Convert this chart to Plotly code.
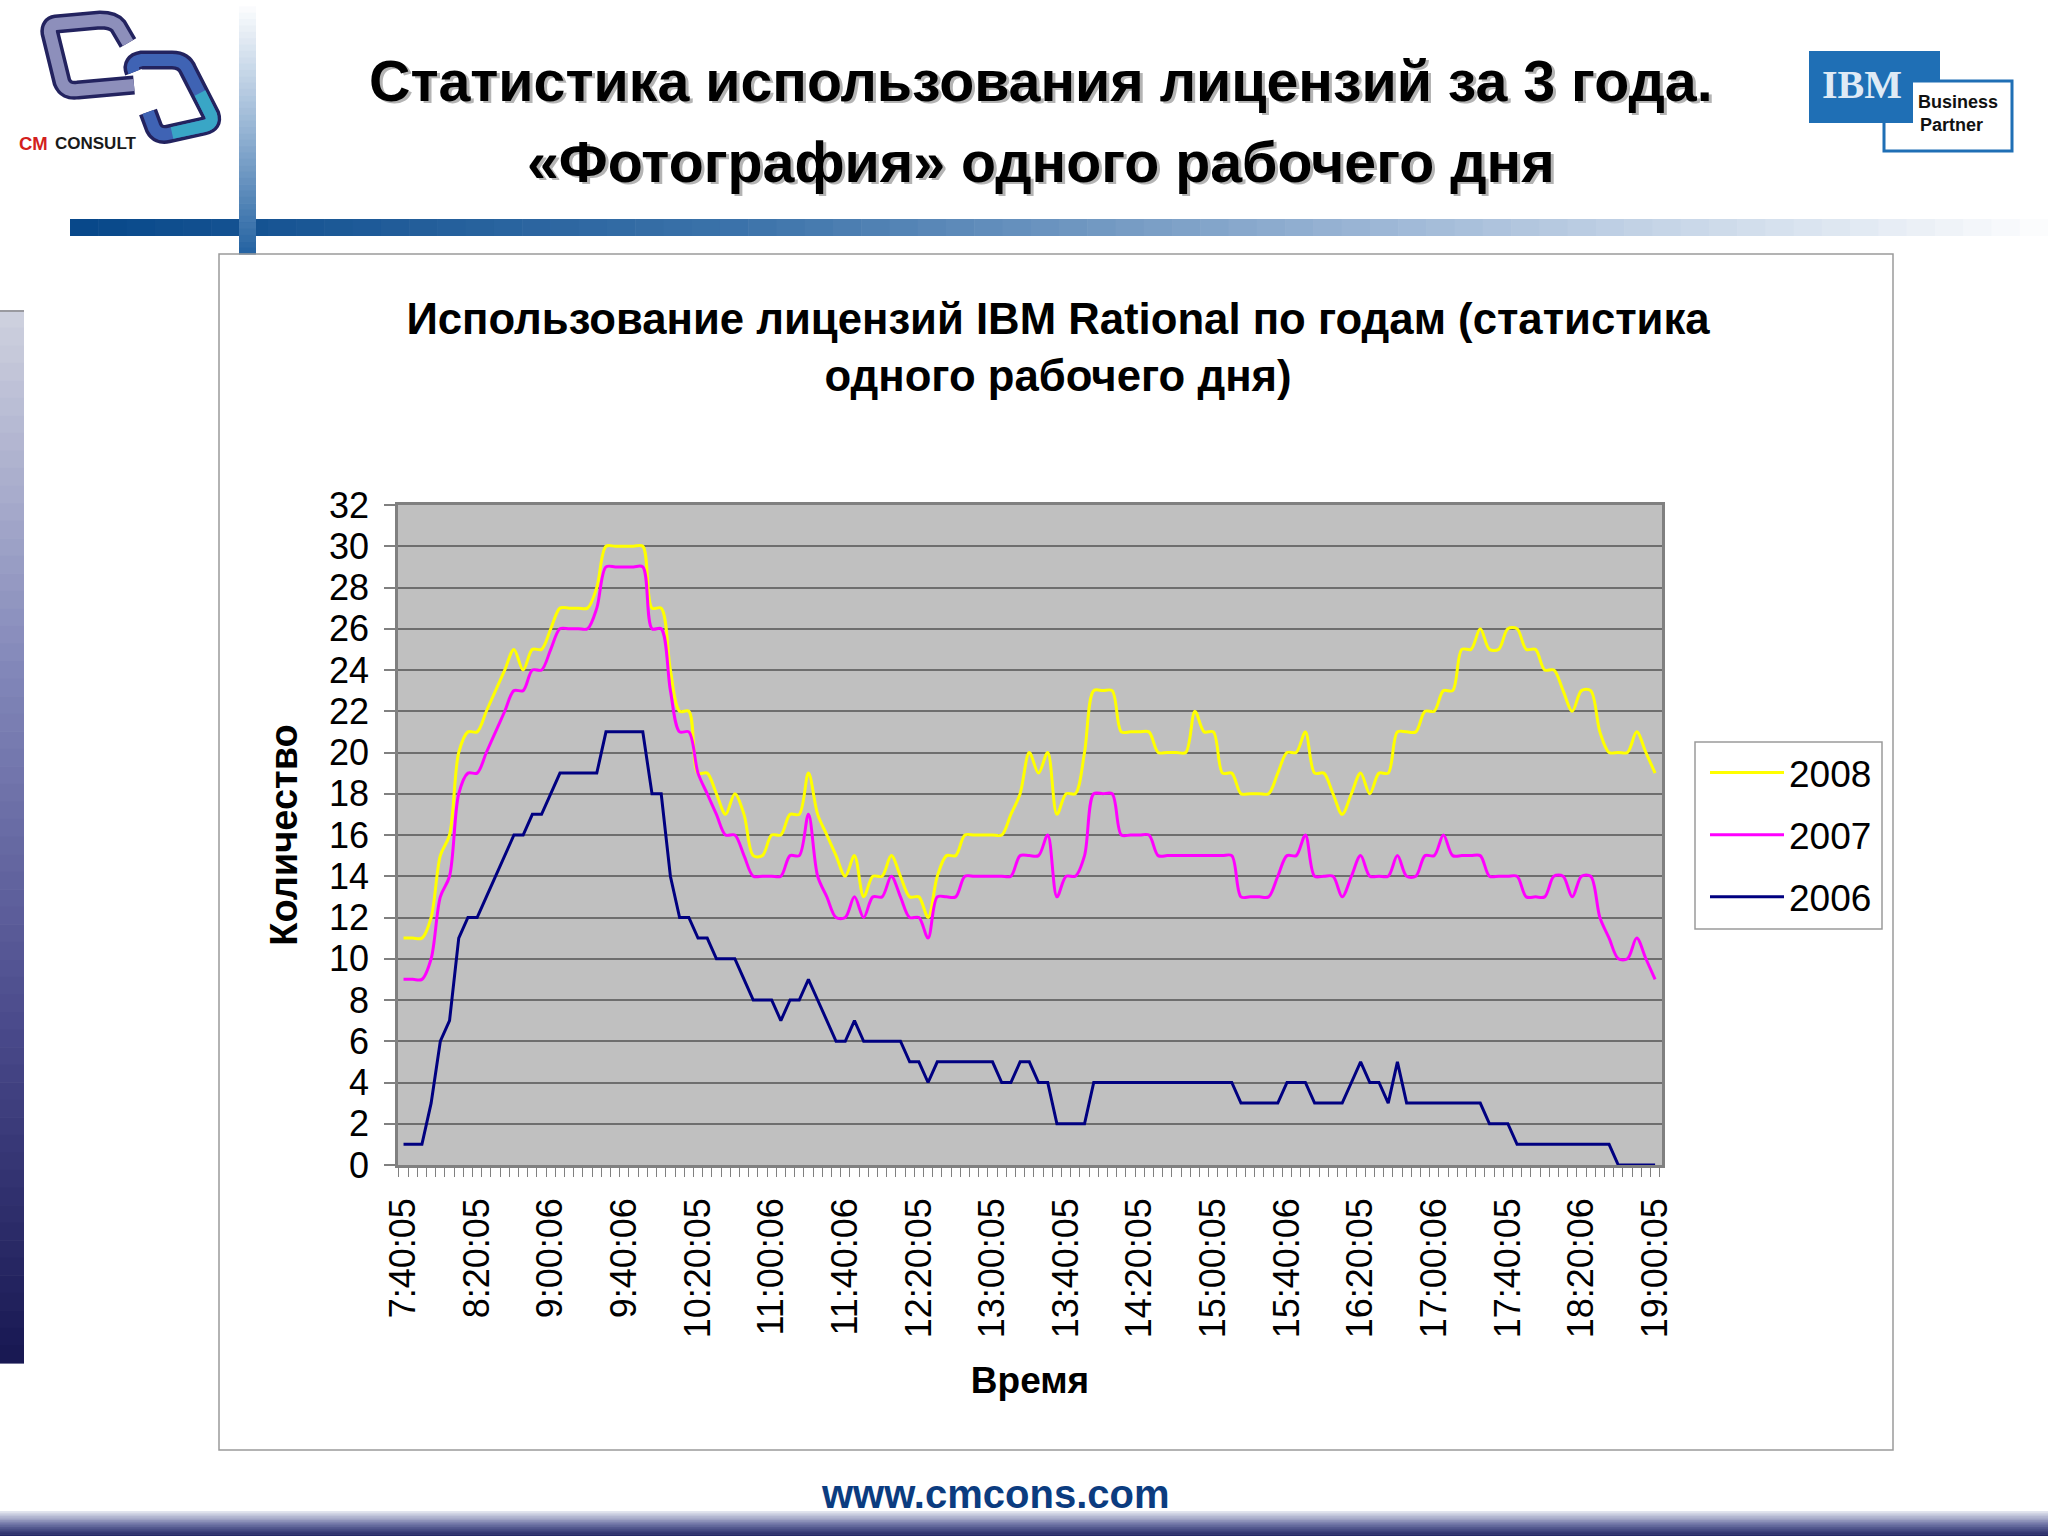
import plotly.graph_objects as go

W, H = 2048, 1536

# ---------- data ----------
time_labels = ["7:40:05", "8:20:05", "9:00:06", "9:40:06", "10:20:05", "11:00:06", "11:40:06",
               "12:20:05", "13:00:05", "13:40:05", "14:20:05", "15:00:05", "15:40:06", "16:20:05",
               "17:00:06", "17:40:05", "18:20:06", "19:00:05"]
y_2008 = [11, 11, 11, 12, 15, 16, 20, 21, 21, 22, 23, 24, 25, 24, 25, 25, 26, 27, 27, 27, 27, 28, 30,
          30, 30, 30, 30, 27, 27, 24, 22, 22, 19, 19, 18, 17, 18, 17, 15, 15, 16, 16, 17, 17, 19, 17,
          16, 15, 14, 15, 13, 14, 14, 15, 14, 13, 13, 12, 14, 15, 15, 16, 16, 16, 16, 16, 17, 18, 20,
          19, 20, 17, 18, 18, 20, 23, 23, 23, 21, 21, 21, 21, 20, 20, 20, 20, 22, 21, 21, 19, 19, 18,
          18, 18, 18, 19, 20, 20, 21, 19, 19, 18, 17, 18, 19, 18, 19, 19, 21, 21, 21, 22, 22, 23, 23,
          25, 25, 26, 25, 25, 26, 26, 25, 25, 24, 24, 23, 22, 23, 23, 21, 20, 20, 20, 21, 20, 19]
y_2007 = [9, 9, 9, 10, 13, 14, 18, 19, 19, 20, 21, 22, 23, 23, 24, 24, 25, 26, 26, 26, 26, 27, 29,
          29, 29, 29, 29, 26, 26, 23, 21, 21, 19, 18, 17, 16, 16, 15, 14, 14, 14, 14, 15, 15, 17, 14,
          13, 12, 12, 13, 12, 13, 13, 14, 13, 12, 12, 11, 13, 13, 13, 14, 14, 14, 14, 14, 14, 15, 15,
          15, 16, 13, 14, 14, 15, 18, 18, 18, 16, 16, 16, 16, 15, 15, 15, 15, 15, 15, 15, 15, 15, 13,
          13, 13, 13, 14, 15, 15, 16, 14, 14, 14, 13, 14, 15, 14, 14, 14, 15, 14, 14, 15, 15, 16, 15,
          15, 15, 15, 14, 14, 14, 14, 13, 13, 13, 14, 14, 13, 14, 14, 12, 11, 10, 10, 11, 10, 9]
y_2006 = [1, 1, 1, 3, 6, 7, 11, 12, 12, 13, 14, 15, 16, 16, 17, 17, 18, 19, 19, 19, 19, 19, 21,
          21, 21, 21, 21, 18, 18, 14, 12, 12, 11, 11, 10, 10, 10, 9, 8, 8, 8, 7, 8, 8, 9, 8,
          7, 6, 6, 7, 6, 6, 6, 6, 6, 5, 5, 4, 5, 5, 5, 5, 5, 5, 5, 4, 4, 5, 5,
          4, 4, 2, 2, 2, 2, 4, 4, 4, 4, 4, 4, 4, 4, 4, 4, 4, 4, 4, 4, 4, 4, 3,
          3, 3, 3, 3, 4, 4, 4, 3, 3, 3, 3, 4, 5, 4, 4, 3, 5, 3, 3, 3, 3, 3, 3, 3,
          3, 3, 2, 2, 2, 1, 1, 1, 1, 1, 1, 1, 1, 1, 1, 1, 0, 0, 0, 0, 0]
label_step = 8
n_points = len(y_2006)
x_index = list(range(n_points))

# ---------- helpers for page furniture (pixel -> paper) ----------
def px(x): return x / W
def py(y): return 1 - y / H

shapes = []
def rect(x0, y0, x1, y1, fill=None, line=None, lw=0, layer="below"):
    shapes.append(dict(type="rect", xref="paper", yref="paper", x0=px(x0), x1=px(x1), y0=py(y0), y1=py(y1),
                       fillcolor=fill or "rgba(0,0,0,0)", line=dict(color=line or "rgba(0,0,0,0)", width=lw),
                       layer=layer))

def path(cmds, color, lw):
    out = []
    for c in cmds:
        out.append(c[0] + " " + " ".join(f"{px(c[i]):.5f},{py(c[i+1]):.5f}" for i in range(1, len(c), 2)))
    shapes.append(dict(type="path", xref="paper", yref="paper", path=" ".join(out),
                       line=dict(color=color, width=lw), layer="below"))

def mix(a, b, t):
    return "rgb(%d,%d,%d)" % tuple(round(a[i] + (b[i] - a[i]) * t) for i in range(3))

def vgrad(x0, x1, y0, y1, stops, n):
    for k in range(n):
        t = k / n * (len(stops) - 1)
        j = min(int(t), len(stops) - 2)
        rect(x0, y0 + (y1 - y0) * k / n, x1, y0 + (y1 - y0) * (k + 1) / n + 0.6, mix(stops[j], stops[j + 1], t - j))

def hgrad(x0, x1, y0, y1, stops, n):
    for k in range(n):
        t = k / n * (len(stops) - 1)
        j = min(int(t), len(stops) - 2)
        rect(x0 + (x1 - x0) * k / n, y0, x0 + (x1 - x0) * (k + 1) / n + 0.6, y1, mix(stops[j], stops[j + 1], t - j))

# gradient bands
hgrad(70, 2048, 219, 236, [(8, 72, 138), (60, 115, 170), (160, 185, 215), (255, 255, 255)], 70)
vgrad(239, 256, 0, 254, [(255, 255, 255), (150, 180, 212), (32, 96, 160)], 40)
vgrad(0, 24, 310, 1363, [(205, 208, 222), (130, 135, 185), (75, 75, 140), (22, 22, 80)], 60)
rect(0, 310, 24, 312, "#9a9aa0")
vgrad(0, 2048, 1511, 1536, [(225, 228, 238), (110, 115, 165), (24, 28, 90)], 14)

# chart frame and legend frame
rect(219, 254, 1893, 1450, None, "#9a9a9a", 1.5)
rect(1695, 742, 1882, 929, "white", "#9a9a9a", 1.5)

# CM Consult logo
left_c = [("M", 128, 43), ("L", 118, 26), ("Q", 113, 20, 100, 20), ("L", 56, 24), ("Q", 49, 25, 50, 33),
          ("L", 62, 82), ("Q", 66, 92, 78, 90), ("L", 134, 85)]
right_c = [("M", 134, 72), ("Q", 130, 62, 142, 60), ("L", 172, 60), ("Q", 184, 60, 188, 70), ("L", 211, 115),
           ("Q", 214, 124, 204, 126), ("L", 168, 134), ("Q", 158, 136, 154, 128), ("L", 148, 112)]
path(left_c, "#23235f", 19)
path(right_c, "#23235f", 19)
path(left_c, "#8d8fbb", 12)
path(right_c, "#3f63b4", 12)
path([("M", 200, 93), ("L", 211, 115), ("Q", 214, 124, 204, 126), ("L", 172, 133)], "#39a6c6", 12)

# IBM logo
rect(1884, 81, 2012, 151, "white", "#1f6fb5", 3)
rect(1809, 51, 1913, 123, "#1f6fb5")
rect(1913, 51, 1940, 80, "#1f6fb5")

# ---------- chart ----------
GRID = "#6e6e6e"
fig = go.Figure()
for name, vals, col, shp in [("2008", y_2008, "#FFFF00", "spline"), ("2007", y_2007, "#FF00FF", "spline"),
                             ("2006", y_2006, "#000080", "linear")]:
    fig.add_trace(go.Scatter(x=x_index, y=vals, name=name, mode="lines", legendgroup=name,
                             line=dict(color=col, width=3, shape=shp, **({"smoothing": 0.9} if shp == "spline" else {}))))

font = "Liberation Sans"
notes = [
    dict(text="Статистика использования лицензий за 3 года.", x=1041, y=81, size=57.3, color="black", bold=True, shadow=True),
    dict(text="«Фотография» одного рабочего дня", x=1041, y=162, size=57.3, color="black", bold=True, shadow=True),
    dict(text="www.cmcons.com", x=995, y=1494, size=40, color="#0b3c80", bold=True),
    dict(text="CM", x=33, y=143, size=18.5, color="#d3201c", bold=True),
    dict(text="CONSULT", x=96, y=143, size=17, color="#1a1a1a", bold=True),
    dict(text="IBM", x=1862, y=84, size=40, color="#dfeaf5", bold=True, family="Liberation Serif"),
    dict(text="Business", x=1958, y=102, size=18, color="#111111", bold=True),
    dict(text="Partner", x=1951, y=125, size=18, color="#111111", bold=True),
]
ann = []
for n in notes:
    txt = f"<b>{n['text']}</b>" if n.get("bold") else n["text"]
    if n.get("shadow"):
        ann.append(dict(text=txt, xref="paper", yref="paper", x=px(n["x"] + 2.5), y=py(n["y"] + 2.5), showarrow=False,
                        xanchor="center", yanchor="middle",
                        font=dict(family=font, size=n["size"], color="#b4b4b4")))
    ann.append(dict(text=txt, xref="paper", yref="paper", x=px(n["x"]), y=py(n["y"]), showarrow=False,
                    xanchor="center", yanchor="middle",
                    font=dict(family=n.get("family", font), size=n["size"], color=n["color"])))

fig.update_layout(
    template="none",
    width=W, height=H, autosize=False,
    margin=dict(l=0, r=0, t=0, b=0, pad=0),
    paper_bgcolor="white", plot_bgcolor="#C0C0C0",
    font=dict(family=font, color="black"),
    title=dict(text="<b>Использование лицензий IBM Rational по годам (статистика<br>одного рабочего дня)</b>",
               x=1058 / W, xanchor="center", y=py(334), yanchor="middle",
               font=dict(family=font, size=43.7, color="black")),
    shapes=shapes, annotations=ann,
    legend=dict(x=px(1705), y=py(742), xanchor="left", yanchor="top", bgcolor="rgba(0,0,0,0)",
                borderwidth=0, font=dict(family=font, size=37, color="black"),
                itemwidth=74, tracegroupgap=11, traceorder="grouped", itemclick=False),
    xaxis=dict(domain=[px(398), px(1662)], range=[-0.6, 136.75], type="linear", automargin=False,
               tickmode="array", tickvals=x_index[::label_step], ticktext=time_labels, tickangle=-90,
               ticks="outside", ticklen=9, tickcolor="rgba(0,0,0,0)", ticklabelstandoff=7,
               tickfont=dict(family=font, size=36, color="black"),
               minor=dict(ticks="outside", tick0=-0.5, dtick=1, ticklen=9, tickcolor="#808080", tickwidth=1, showgrid=False),
               showline=True, linecolor="#808080", linewidth=2.5, mirror=True, showgrid=False, zeroline=False,
               title=dict(text="<b>Время</b>", standoff=30, font=dict(family=font, size=37, color="black"))),
    yaxis=dict(domain=[py(1165), py(505)], range=[0, 32], dtick=2, tick0=0, automargin=False,
               ticks="outside", ticklen=11, tickcolor="#808080", tickwidth=1.5, ticklabelstandoff=8,
               tickfont=dict(family=font, size=36, color="black"),
               showline=True, linecolor="#808080", linewidth=2.5, mirror=True,
               showgrid=True, gridcolor=GRID, gridwidth=1.5, zeroline=False,
               title=dict(text="<b>Количество</b>", standoff=20, font=dict(family=font, size=38, color="black"))),
)

fig.write_html("out.html", config={"displayModeBar": False},
               post_script="document.body.style.margin='0';document.body.style.overflow='hidden';")
